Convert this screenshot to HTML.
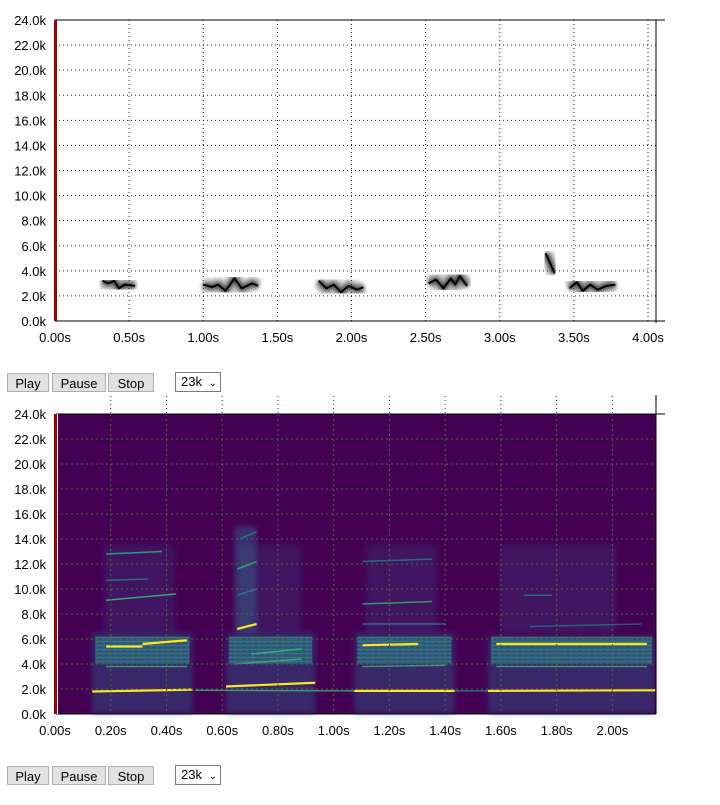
<!DOCTYPE html>
<html><head><meta charset="utf-8"><style>
body{margin:0;width:720px;height:805px;background:#fff;font-family:"Liberation Sans",sans-serif;position:relative;overflow:hidden}
.btn{position:absolute;height:19px;border:1px solid #adadad;background:#e1e1e1;font:13px "Liberation Sans",sans-serif;line-height:19px;text-align:center;box-sizing:border-box;color:#000}
.sel{position:absolute;height:20px;border:1px solid #7a7a7a;background:#fff;font:13px "Liberation Sans",sans-serif;line-height:18px;box-sizing:border-box;padding-left:5px;width:46px}
svg text{font-family:"Liberation Sans",sans-serif;font-size:13px;fill:#000}
</style></head><body>
<svg id="topchart" width="720" height="360" style="position:absolute;left:0;top:0"></svg>
<div class="btn" style="left:7px;top:373px;width:42px">Play</div>
<div class="btn" style="left:52px;top:373px;width:54px">Pause</div>
<div class="btn" style="left:108px;top:373px;width:46px">Stop</div>
<div class="sel" style="left:175px;top:372px">23k <span style="font-size:10px;margin-left:3px">&#8964;</span></div>
<svg id="botchart" width="720" height="350" style="position:absolute;left:0;top:395px"></svg>
<div class="btn" style="left:7px;top:766px;width:42px">Play</div>
<div class="btn" style="left:52px;top:766px;width:54px">Pause</div>
<div class="btn" style="left:108px;top:766px;width:46px">Stop</div>
<div class="sel" style="left:175px;top:765px">23k <span style="font-size:10px;margin-left:3px">&#8964;</span></div>
<script>
const NS="http://www.w3.org/2000/svg";
const yTicks=[0,2,4,6,8,10,12,14,16,18,20,22,24];
const topXTicks=[0,0.5,1,1.5,2,2.5,3,3.5,4];
const botXTicks=[0,0.2,0.4,0.6,0.8,1.0,1.2,1.4,1.6,1.8,2.0];
const topTraces=[
 [[0.32,3.2],[0.36,3.0],[0.40,3.2],[0.43,2.6],[0.47,2.9],[0.54,2.8]],
 [[1.00,2.9],[1.06,2.7],[1.10,2.9],[1.15,2.4],[1.21,3.4],[1.26,2.6],[1.33,3.0],[1.37,2.8]],
 [[1.78,3.2],[1.83,2.6],[1.88,2.9],[1.93,2.3],[1.98,2.8],[2.04,2.5],[2.08,2.7]],
 [[2.52,3.0],[2.57,3.3],[2.62,2.6],[2.67,3.4],[2.70,2.9],[2.73,3.6],[2.78,2.8]],
 [[3.31,5.4],[3.34,4.6],[3.37,3.8]],
 [[3.47,2.6],[3.52,3.1],[3.56,2.4],[3.61,2.9],[3.66,2.5],[3.72,2.8],[3.78,2.9]]
];
const sylStart=[0.13,0.61,1.07,1.55];
const sylEnd=[0.49,0.93,1.43,2.15];
const sylTop=[6.5,6.5,6.5,6.2];
const harmonics=[
 [0.13,0.49,1.8,1.95,1],[0.50,1.07,1.9,1.85,0.5],[0.18,0.31,5.4,5.4,1],[0.31,0.47,5.6,5.9,1],
 [0.18,0.47,3.8,3.8,0.5],[0.18,0.43,9.1,9.6,0.6],[0.18,0.38,12.8,13.0,0.5],[0.18,0.33,10.7,10.8,0.4],
 [0.61,0.93,2.2,2.5,1],[0.65,0.72,6.8,7.2,0.9],[0.65,0.72,11.6,12.2,0.5],[0.66,0.72,14.0,14.6,0.4],[0.65,0.72,9.5,10.0,0.4],
 [0.64,0.88,4.0,4.4,0.5],[0.70,0.88,4.8,5.2,0.6],
 [1.07,1.43,1.85,1.85,1],[1.10,1.30,5.5,5.6,0.9],[1.10,1.40,3.8,3.9,0.5],[1.10,1.35,8.8,9.0,0.5],[1.10,1.35,12.2,12.4,0.4],[1.10,1.40,7.2,7.2,0.4],
 [1.43,1.55,1.85,1.85,0.4],[1.55,2.15,1.85,1.9,1],[1.58,2.12,5.6,5.6,0.9],[1.58,2.12,3.8,3.8,0.5],[1.70,2.10,7.0,7.2,0.3],[1.68,1.78,9.5,9.5,0.4]
];
function el(p,t,a,name,inter){const e=document.createElementNS(NS,t);for(const k in a)e.setAttribute(k,a[k]);
 
 
 p.appendChild(e);return e;}
// TOP
const topSvg=document.getElementById('topchart');
{const X0=55,X1=656,Y0=20,Y1=321,xs=148.25;
 const fy=k=>Y1-(k/24)*(Y1-Y0);const fx=t=>X0+t*xs;
 yTicks.forEach(k=>{const y=fy(k);
  if(k>0&&k<24)el(topSvg,'line',{x1:X0,x2:X1,y1:y,y2:y,stroke:'#222','stroke-dasharray':'1,3'},'y-gridline');
  const t=el(topSvg,'text',{x:46,y:y+5,'text-anchor':'end'},'y-tick-label');t.textContent=k.toFixed(1)+'k';});
 topXTicks.forEach(s=>{const x=fx(s);
  if(s>0)el(topSvg,'line',{x1:x,x2:x,y1:Y0,y2:Y1,stroke:'#222','stroke-dasharray':'1,3'},'x-gridline');
  const t=el(topSvg,'text',{x:x,y:Y1+21,'text-anchor':'middle'},'x-tick-label');t.textContent=s.toFixed(2)+'s';});
 el(topSvg,'line',{x1:X0,x2:665,y1:Y0,y2:Y0,stroke:'#000'},'top-border');
 el(topSvg,'line',{x1:X0,x2:665,y1:Y1,y2:Y1,stroke:'#000'},'x-axis');
 el(topSvg,'line',{x1:X1,x2:X1,y1:Y0,y2:Y1+2,stroke:'#000'},'right-border');
 el(topSvg,'rect',{x:54,y:Y0,width:3,height:Y1-Y0,fill:'#a00000'},'playhead');
 const defs=document.createElementNS(NS,'defs');defs.innerHTML='<filter id="bl"><feGaussianBlur stdDeviation="2"/></filter>';topSvg.appendChild(defs);
 topTraces.forEach(tr=>{const pts=tr.map(p=>fx(p[0])+','+fy(p[1])).join(' ');
  el(topSvg,'polyline',{points:pts,fill:'none',stroke:'#444',opacity:0.4,'stroke-width':14,'stroke-linejoin':'round',filter:'url(#bl)'},'syllable-halo');
  el(topSvg,'polyline',{points:pts,fill:'none',stroke:'#111',opacity:0.85,'stroke-width':4,'stroke-linejoin':'round',filter:'url(#bl)'},'syllable-core');
  el(topSvg,'polyline',{points:pts,fill:'none',stroke:'#000','stroke-width':2,'stroke-linejoin':'round'},'syllable-trace');});
}
// BOTTOM
const botSvg=document.getElementById('botchart');
{const X0=56,X1=656,Y0=19,Y1=319,xs=278.7;
 const fy=k=>Y1-(k/24)*(Y1-Y0);const fx=t=>X0+t*xs;
 el(botSvg,'rect',{x:X0,y:Y0,width:X1-X0,height:Y1-Y0,fill:'#440154'},'plot-background');
 const defs=document.createElementNS(NS,'defs');
 defs.innerHTML='<filter id="b2"><feGaussianBlur stdDeviation="3"/></filter><pattern id="stripes" width="6" height="4" patternUnits="userSpaceOnUse"><rect width="6" height="4" fill="#2a7f8a"/><rect y="2" width="6" height="1" fill="#3aa987"/><rect x="3" width="2" height="1" fill="#31557e"/></pattern>';
 botSvg.appendChild(defs);
 sylStart.forEach((s,i)=>{
  el(botSvg,'rect',{x:fx(s),y:fy(sylTop[i]),width:fx(sylEnd[i])-fx(s),height:fy(0)-fy(sylTop[i]),fill:'#2c5f8a',opacity:0.42,filter:'url(#b2)'},'syllable-energy');
  el(botSvg,'rect',{x:fx(s)+3,y:fy(6.2),width:fx(sylEnd[i])-fx(s)-6,height:fy(4.0)-fy(6.2),fill:'url(#stripes)',opacity:0.6},'formant-band');
  el(botSvg,'rect',{x:fx(s)+12,y:fy(13.5),width:(fx(sylEnd[i])-fx(s))*0.7,height:fy(6.5)-fy(13.5),fill:'#3b528b',opacity:0.25,filter:'url(#b2)'},'upper-energy');
 });
 el(botSvg,'rect',{x:fx(0.64),y:fy(15),width:fx(0.72)-fx(0.64),height:fy(6.5)-fy(15),fill:'#31688e',opacity:0.45,filter:'url(#b2)'},'upsweep-energy');
 harmonics.forEach(h=>{const c=h[4]>0.8?'#fde725':(h[4]>0.45?'#35b779':'#21918c');
  el(botSvg,'line',{x1:fx(h[0]),x2:fx(h[1]),y1:fy(h[2]),y2:fy(h[3]),stroke:c,'stroke-width':h[4]>0.8?2.2:1.5,opacity:Math.min(1,h[4]+0.3)},'harmonic-line');});
 yTicks.forEach(k=>{const y=fy(k);
  if(k>0&&k<24)el(botSvg,'line',{x1:X0,x2:X1,y1:y,y2:y,stroke:'#4a6a3a','stroke-dasharray':'2,3'},'y-gridline');
  const t=el(botSvg,'text',{x:46,y:y+5,'text-anchor':'end'},'y-tick-label');t.textContent=k.toFixed(1)+'k';});
 botXTicks.forEach(s=>{const x=fx(s)-1;
  if(s>0){el(botSvg,'line',{x1:x,x2:x,y1:Y0,y2:Y1,stroke:'#4a6a3a','stroke-dasharray':'2,3'},'x-gridline');
   el(botSvg,'line',{x1:x,x2:x,y1:Y0-18,y2:Y0,stroke:'#333','stroke-dasharray':'1,3'},'x-gridline-top');}
  const t=el(botSvg,'text',{x:x,y:Y1+21,'text-anchor':'middle'},'x-tick-label');t.textContent=s.toFixed(2)+'s';});
 el(botSvg,'line',{x1:X0,x2:665,y1:Y0,y2:Y0,stroke:'#000'},'top-border');
 el(botSvg,'line',{x1:X0,x2:X1,y1:Y1,y2:Y1,stroke:'#000'},'x-axis');
 el(botSvg,'line',{x1:X1,x2:X1,y1:0,y2:Y1,stroke:'#000'},'right-border');
 el(botSvg,'rect',{x:54,y:Y0,width:3,height:Y1-Y0,fill:'#a00000'},'playhead');
 el(botSvg,'line',{x1:57.5,x2:57.5,y1:Y0,y2:Y1,stroke:'#fff'},'playhead-edge');
}
</script>
</body></html>
